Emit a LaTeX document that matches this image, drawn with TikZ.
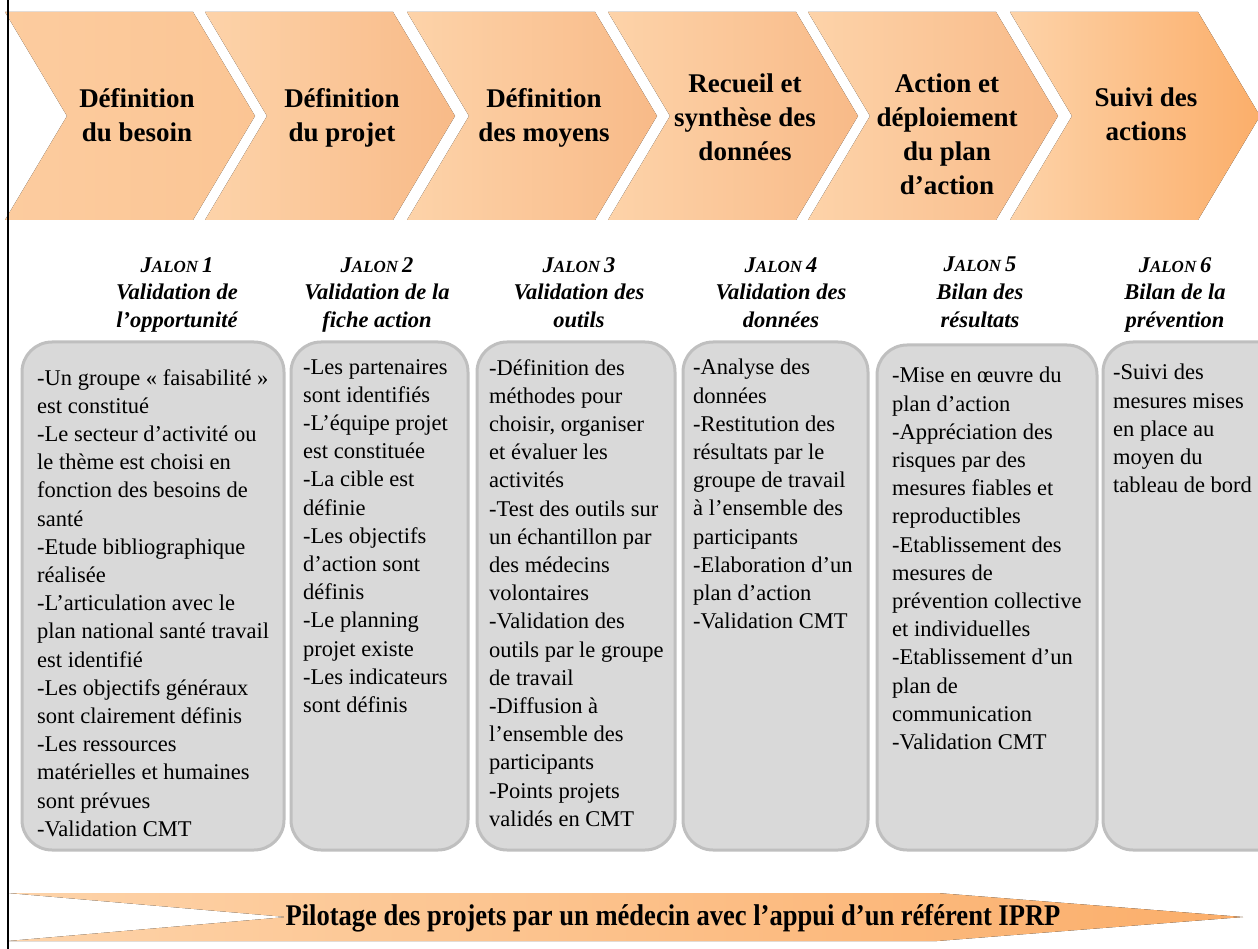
\documentclass[tikz,border=0pt]{standalone}
\usepackage{fontspec}
\setmainfont{Liberation Serif}
\definecolor{pA}{HTML}{FDD3A9}
\definecolor{pB}{HTML}{F8BA88}
\definecolor{pC}{HTML}{FBAE6A}
\definecolor{p1}{HTML}{FCCC9F}
\definecolor{p1b}{HTML}{FBC594}
\definecolor{boxfill}{HTML}{D9D9D9}
\definecolor{boxline}{HTML}{BFBFBF}
\newcommand\jal[1]{J{\fontsize{17}{17}\selectfont ALON}\,#1}
\newcommand\chevshape[3]{\fill[left color=#2,right color=#3] (#1,12) -- ++(188,0) -- ++(62,104) -- ++(-62,104) -- ++(-188,0) -- ++(62,-104) -- cycle;}
\begin{document}
\begin{tikzpicture}[x=1pt,y=-1pt,
  chevtext/.style={align=center,inner sep=0pt,anchor=north,font=\fontsize{27}{34}\selectfont\bfseries,execute at begin node=\rule{0pt}{24pt}},
  hdr/.style={align=center,inner sep=0pt,anchor=north,font=\fontsize{22.5}{27.6}\selectfont\bfseries\itshape,execute at begin node=\rule{0pt}{20pt}},
  stagebox/.style={draw=boxline,fill=boxfill,line width=3pt,rounded corners=30pt},
  boxtext/.style={align=left,inner sep=0pt,anchor=north west,font=\fontsize{22.5}{28.2}\selectfont,execute at begin node=\rule{0pt}{20pt}},
]
\useasboundingbox (0,0) rectangle (1258,949);
% chevrons
\chevshape{5}{p1}{p1b}
\chevshape{205}{pA}{pB}
\chevshape{407}{pA}{pB}
\chevshape{608}{pA}{pB}
\chevshape{808}{pA}{pB}
\chevshape{1010}{pA}{pC}
\node[chevtext] (c1) at (137,88) {Définition\\du besoin};
\node[chevtext] (c2) at (342,88) {Définition\\du projet};
\node[chevtext] (c3) at (544,88) {Définition\\des moyens};
\node[chevtext] (c4) at (745,74) {Recueil et\\synthèse des\\données};
\node[chevtext] (c5) at (947,74) {Action et\\déploiement\\du plan\\d’action};
\node[chevtext] (c6) at (1146,88) {Suivi des\\actions};
% milestones
\node[hdr] (j1) at (177,257) {\jal{1}\\Validation de\\l’opportunité};
\node[hdr] (j2) at (377,257) {\jal{2}\\Validation de la\\fiche action};
\node[hdr] (j3) at (579,257) {\jal{3}\\Validation des\\outils};
\node[hdr] (j4) at (781,257) {\jal{4}\\Validation des\\données};
\node[hdr] (j5) at (980,257) {\jal{5}\\Bilan des\\résultats};
\node[hdr] (j6) at (1175,257) {\jal{6}\\Bilan de la\\prévention};
% boxes
\draw[stagebox] (22,342) rectangle (284,850);
\draw[stagebox] (291,342) rectangle (468,850);
\draw[stagebox] (477,342) rectangle (675,850);
\draw[stagebox] (683,342) rectangle (868,850);
\draw[stagebox] (877,345) rectangle (1097,850);
\draw[stagebox] (1103,342) rectangle (1290,850);
\node[boxtext] (t1) at (37,369) {-Un groupe « faisabilité »\\est constitué\\-Le secteur d’activité ou\\le thème est choisi en\\fonction des besoins de\\santé\\-Etude bibliographique\\réalisée\\-L’articulation avec le\\plan national santé travail\\est identifié\\-Les objectifs généraux\\sont clairement définis\\-Les ressources\\matérielles et humaines\\sont prévues\\-Validation CMT};
\node[boxtext] (t2) at (303,359) {-Les partenaires\\sont identifiés\\-L’équipe projet\\est constituée\\-La cible est\\définie\\-Les objectifs\\d’action sont\\définis\\-Le planning\\projet existe\\-Les indicateurs\\sont définis};
\node[boxtext] (t3) at (489,359) {-Définition des\\méthodes pour\\choisir, organiser\\et évaluer les\\activités\\-Test des outils sur\\un échantillon par\\des médecins\\volontaires\\-Validation des\\outils par le groupe\\de travail\\-Diffusion à\\l’ensemble des\\participants\\-Points projets\\validés en CMT};
\node[boxtext] (t4) at (693,359) {-Analyse des\\données\\-Restitution des\\résultats par le\\groupe de travail\\à l’ensemble des\\participants\\-Elaboration d’un\\plan d’action\\-Validation CMT};
\node[boxtext] (t5) at (892,367) {-Mise en œuvre du\\plan d’action\\-Appréciation des\\risques par des\\mesures fiables et\\reproductibles\\-Etablissement des\\mesures de\\prévention collective\\et individuelles\\-Etablissement d’un\\plan de\\communication\\-Validation CMT};
\node[boxtext] (t6) at (1113,364) {-Suivi des\\mesures mises\\en place au\\moyen du\\tableau de bord};
% bottom arrow
\fill[left color=pA,right color=pC] (8,893) -- (937,893) -- (1243,917) -- (937,941) -- (8,941) -- (287,917) -- cycle;
\node[inner sep=0pt,font=\fontsize{30}{30}\selectfont\bfseries] (pilot) at (673,918) {\scalebox{0.885}[1]{Pilotage des projets par un médecin avec l’appui d’un référent IPRP}};
% left rule
\draw[line width=1.2pt] (8,0) -- (8,949);
\end{tikzpicture}
\end{document}
